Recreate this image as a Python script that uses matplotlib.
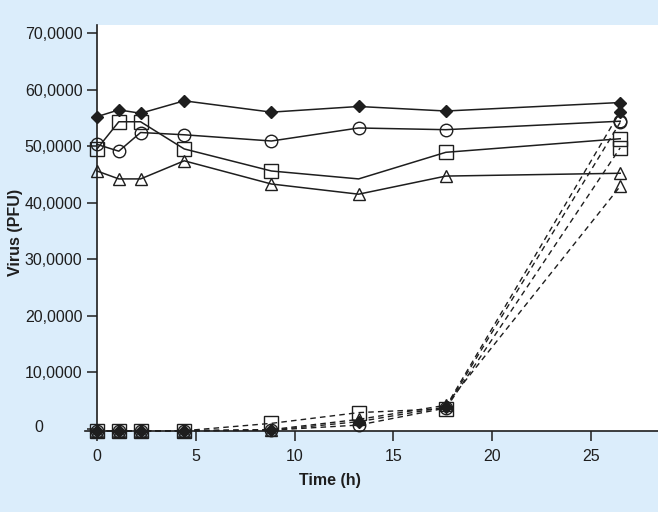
import matplotlib
matplotlib.use('Agg')
import matplotlib.pyplot as plt

# time points (h)
time = [0, 1, 2, 4, 8, 12, 16, 24]

# solid series
diamond_solid = [55200, 56400, 55800, 58000, 56000, 57000, 56200, 57700]
circle_solid = [50300, 49100, 52400, 52000, 50900, 53200, 52900, 54400]
square_solid = [49500, 54300, 54300, 49500, 45600, 44200, 48900, 51300]
triangle_solid = [45600, 44200, 44200, 47400, 43300, 41500, 44700, 45200]

# dashed series
diamond_dash = [-300, -300, -300, -300, -200, 1300, 3900, 56100]
circle_dash = [-300, -300, -300, -300, -200, 700, 3700, 54200]
square_dash = [-300, -300, -300, -300, 1000, 2900, 3600, 49700]
triangle_dash = [-300, -300, -300, -300, -100, 1700, 4200, 42900]

yticks = [0, 10000, 20000, 30000, 40000, 50000, 60000, 70000]
ylabels = ['0', '10,0000', '20,0000', '30,0000', '40,0000', '50,0000', '60,0000', '70,0000']
xlabels = [0, 5, 10, 15, 20, 25]
# the printed axis scale is slightly compressed relative to the plotted hours
tick_scale = 0.906

bg = '#dbedfb'
ink = '#1e1e1e'
plt.rcParams['font.family'] = ['Liberation Sans', 'DejaVu Sans']

fig = plt.figure(figsize=(6.58, 5.12), dpi=100, facecolor=bg)
ax = fig.add_axes([85/658, 1 - 431/512, 1 - 85/658, (431 - 25)/512])
ax.set_facecolor(bg)
ax.axvspan(0, 30, color='white', zorder=0)

styles = [
    (diamond_solid, diamond_dash, dict(marker='D', ms=6, mfc=ink)),
    (circle_solid, circle_dash, dict(marker='o', ms=9, mfc='none')),
    (square_solid, square_dash, dict(marker='s', ms=10, mfc='none')),
    (triangle_solid, triangle_dash, dict(marker='^', ms=8, mfc='none')),
]
for solid, dash, m in styles:
    me = [0, 1, 2, 3, 4, 6, 7] if m['marker'] == 's' else None
    ax.plot(time, solid, '-', color=ink, lw=1.1, mec=ink, mew=1.0,
            markevery=me, clip_on=False, zorder=3, **m)
    ax.plot(time, dash, '--', color=ink, lw=1.0, mec=ink, mew=1.0,
            dashes=(4, 3), clip_on=False, zorder=3, **m)

ax.set_xlim(-12/21.8, (658 - 97)/21.8)
ax.set_ylim(-350, 71400)
ax.spines['left'].set_position(('data', 0))
ax.spines['top'].set_visible(False)
ax.spines['right'].set_visible(False)
for s in ('left', 'bottom'):
    ax.spines[s].set_color(ink)
    ax.spines[s].set_linewidth(1.2)

ax.set_xticks([v * tick_scale for v in xlabels])
ax.set_xticklabels([str(v) for v in xlabels])
ax.set_yticks(yticks)
# the zero label sits apart from the others in the original
ax.set_yticklabels([''] + ylabels[1:])
ax.tick_params(axis='both', colors=ink, labelsize=11.5, length=7, width=1.1, direction='out')
ax.tick_params(axis='x', pad=6)

fig.text(39/658, 1 - 428/512, ylabels[0], fontsize=11.5, color=ink,
         ha='center', va='center')
fig.text(330/658, 1 - 480/512, 'Time (h)', fontsize=11.5, fontweight='bold',
         color=ink, ha='center', va='center')
fig.text(16/658, 1 - 232/512, 'Virus (PFU)', fontsize=11.5, fontweight='bold',
         color=ink, ha='center', va='center', rotation=90)

plt.savefig('out.png', dpi=100, facecolor=bg)
